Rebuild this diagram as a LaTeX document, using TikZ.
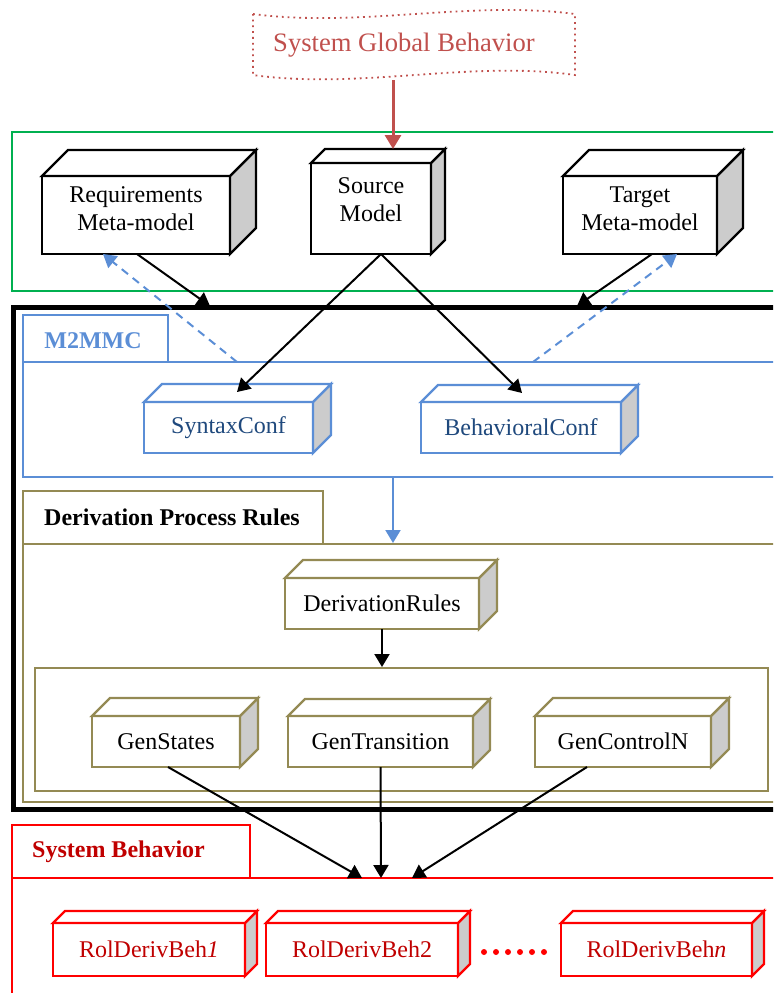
\documentclass[tikz,border=0pt]{standalone}
\usepackage{fontspec}
\setmainfont{Liberation Serif}
\usetikzlibrary{calc,arrows.meta}
\definecolor{gGreen}{HTML}{00B050}
\definecolor{bannerRed}{HTML}{C0504D}
\definecolor{mBlue}{HTML}{5B8ED6}
\definecolor{dBlue}{HTML}{1F497D}
\definecolor{oliveC}{HTML}{948A54}
\definecolor{bRed}{HTML}{FF0000}
\definecolor{dRed}{HTML}{C00000}
\definecolor{sideGray}{HTML}{CCCCCC}
\newcommand\cubefaces[3]{%
  \filldraw[fill=sideGray, draw=#3, line width=1.2pt, line join=miter]
    (#1.north east) -- ++(#2,-#2) -- ($(#1.south east)+(#2,-#2)$) -- (#1.south east) -- cycle;
  \filldraw[fill=white, draw=#3, line width=1.2pt, line join=miter]
    (#1.north west) -- ++(#2,-#2) -- ($(#1.north east)+(#2,-#2)$) -- (#1.north east) -- cycle;
}
\begin{document}
\begin{tikzpicture}[x=0.5pt,y=-0.5pt,
  box/.style={draw, line width=1.2pt, fill=white, inner sep=0pt, outer sep=0pt,
    minimum height=25.5pt, font=\fontsize{12}{14}\selectfont, align=center},
  bigbox/.style={box, draw=black, minimum height=39pt},
  boxtext/.style={font=\fontsize{12}{14}\selectfont, align=center, inner sep=0pt},
  bluebox/.style={box, draw=mBlue, text=dBlue},
  olivebox/.style={box, draw=oliveC, text=black},
  redbox/.style={box, draw=bRed, text=dRed, minimum height=26.5pt, minimum width=96pt},
  arr/.style={line width=1pt, -{Triangle[length=6.5pt,width=7.5pt]}},
  dasharr/.style={mBlue, line width=1pt, dash pattern=on 4pt off 3pt, -{Triangle[length=6.5pt,width=7.5pt]}},
  container/.style={line width=1pt},
  tablabel/.style={font=\bfseries\fontsize{12}{14}\selectfont, inner sep=0pt}
]
\useasboundingbox (0,0) rectangle (773,993);
\clip (0,0) rectangle (773,993);

% banner
\draw[bannerRed, line width=0.9pt, dotted]
  (253,14) .. controls (360,28) and (470,0) .. (575,14) -- (575,75)
  .. controls (470,60) and (360,90) .. (253,75) -- cycle;
\node[font=\fontsize{13.3}{15}\selectfont, text=bannerRed, inner sep=0pt] (sgb) at (404,45) {System Global Behavior};
\coordinate (bannerbot) at (393,80);

% containers
\draw[container, gGreen] (12,132) rectangle (800,291);
\draw[line width=2.5pt] (13,307) rectangle (800,809);
\draw[container, mBlue] (23,315) rectangle (168,362);
\draw[container, mBlue] (23,362) rectangle (800,477);
\node[tablabel, text=mBlue] (m2mmc) at (93,341) {M2MMC};
\draw[container, oliveC] (23,491) rectangle (323,544);
\draw[container, oliveC] (23,544) rectangle (800,802);
\draw[container, oliveC] (35,668) rectangle (768,791);
\node[tablabel] (dpr) at (172,517) {Derivation Process Rules};
\draw[container, bRed] (12,825) rectangle (250,878);
\draw[container, bRed] (12,878) rectangle (800,1010);
\node[tablabel, text=dRed] (sysb) at (118.5,852) {System Behavior};

% top boxes
\node[bigbox, minimum width=94pt] (req) at (136,215) {};
\cubefaces{req}{26}{black}
\node[boxtext] (reqt) at (136,209) {Requirements\\Meta-model};
\node[bigbox, minimum width=60pt, minimum height=45.5pt] (src) at (371,208.5) {};
\cubefaces{src}{14}{black}
\node[boxtext] (srct) at (371,200) {Source\\Model};
\node[bigbox, minimum width=77pt] (tgt) at (640,215) {};
\cubefaces{tgt}{26}{black}
\node[boxtext] (tgtt) at (640,209) {Target\\Meta-model};

% M2MMC boxes
\node[bluebox, minimum width=84.5pt] (syn) at (228.5,427.5) {SyntaxConf};
\cubefaces{syn}{18}{mBlue}
\node[bluebox, minimum width=100pt] (beh) at (521,427.5) {BehavioralConf};
\cubefaces{beh}{17}{mBlue}

% derivation boxes
\node[olivebox, minimum width=97pt] (drv) at (382,603.5) {DerivationRules};
\cubefaces{drv}{18}{oliveC}
\node[olivebox, minimum width=74pt] (gs) at (166,741.5) {GenStates};
\cubefaces{gs}{18}{oliveC}
\node[olivebox, minimum width=92.5pt] (gt) at (380.5,741.5) {GenTransition};
\cubefaces{gt}{17}{oliveC}
\node[olivebox, minimum width=88pt] (gc) at (623,741.5) {GenControlN};
\cubefaces{gc}{18}{oliveC}

% system behavior boxes
\node[redbox] (r1) at (149,949.5) {RolDerivBeh\textit{1}};
\cubefaces{r1}{12}{bRed}
\node[redbox] (r2) at (362,949.5) {RolDerivBeh2};
\cubefaces{r2}{12}{bRed}
\node[redbox, minimum width=95.5pt] (rn) at (656.5,949.5) {RolDerivBeh\textit{n}};
\cubefaces{rn}{12}{bRed}
\foreach \i in {0,...,5} \fill[bRed] (484+\i*12,952) circle (3);

% coordinates for free ends
\coordinate (coreA) at (210,306);
\coordinate (coreB) at (577,306);
\coordinate (m2hdA) at (237,362);
\coordinate (m2hdB) at (533,362);
\coordinate (m2bot) at (393,477);
\coordinate (dphd) at (393,543);
\coordinate (inner) at (382,667);
\coordinate (sbA) at (362,878);
\coordinate (sbB) at (381,878);
\coordinate (sbC) at (412,878);

% connectors
\draw[bannerRed, line width=1.5pt, -{Triangle[length=7pt,width=8pt]}] (bannerbot) -- ($(src.north)+(22,-14)$);
\draw[arr] ($(req.south)+(1,0)$) -- (coreA);
\draw[arr] ($(tgt.south)+(12,0)$) -- (coreB);
\draw[dasharr] (m2hdA) -- ($(req.south west)+(61,0)$);
\draw[dasharr] (m2hdB) -- ($(tgt.south east)+(-40,0)$);
\draw[arr] ($(src.south)+(10,0)$) -- ($(syn.north)+(8.5,-10)$);
\draw[arr] ($(src.south)+(10,0)$) -- ($(beh.north)+(1,-9)$);
\draw[mBlue, line width=1pt, -{Triangle[length=6.5pt,width=7.5pt]}] (m2bot) -- (dphd);
\draw[arr] (drv.south) -- (inner);
\draw[arr] ($(gs.south)+(2,0)$) -- (sbA);
\draw[arr] (gt.south) -- (sbB);
\draw[arr] ($(gc.south)+(-36,0)$) -- (sbC);
\end{tikzpicture}
\end{document}
